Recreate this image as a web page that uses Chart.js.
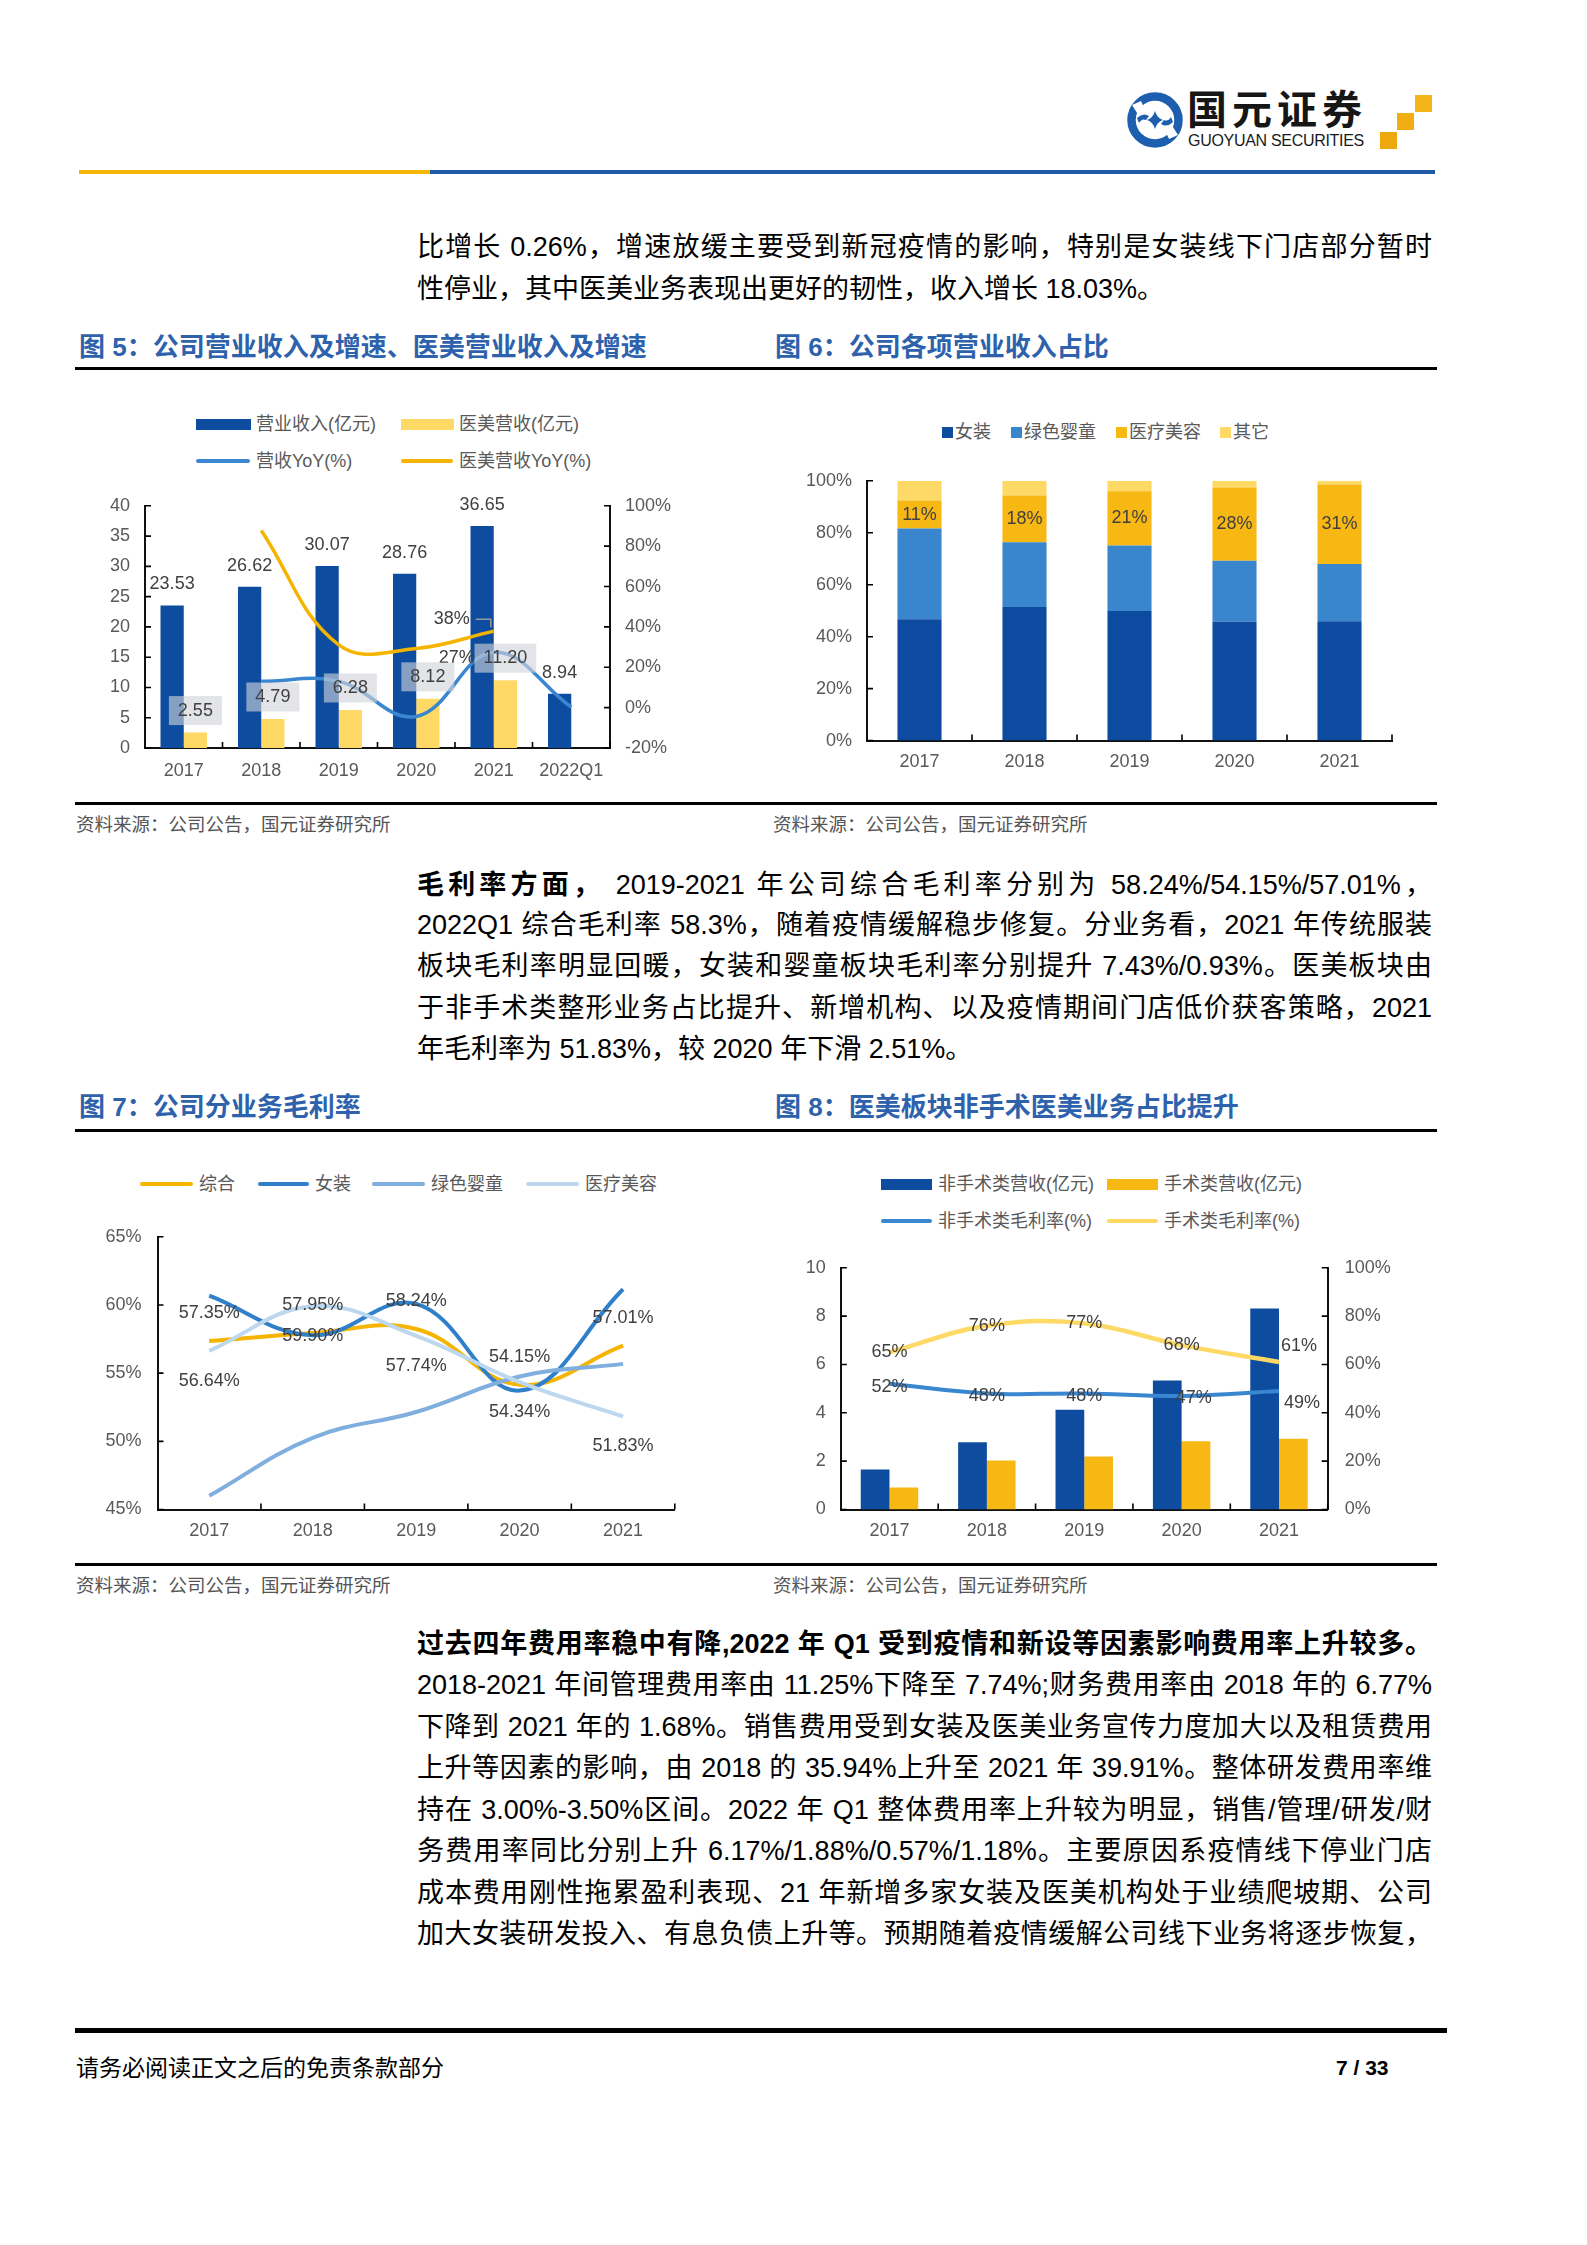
<!DOCTYPE html>
<html><head><meta charset="utf-8">
<script src="https://cdn.jsdelivr.net/npm/chart.js@4.4.1/dist/chart.umd.min.js"></script>
<style>
html,body{margin:0;padding:0;background:#fff;}
body{width:1587px;height:2245px;position:relative;overflow:hidden;font-family:"Liberation Sans","Noto Sans CJK SC",sans-serif;}
.abs{position:absolute;}
.line{position:absolute;left:417px;width:1015px;height:41.5px;line-height:41.5px;font-size:27px;color:#000;text-align:justify;text-align-last:justify;overflow:hidden;}
.line.last{text-align-last:left;}
.ftitle{position:absolute;font-size:26px;font-weight:bold;color:#2E62AC;line-height:30px;white-space:nowrap;}
.rule{position:absolute;background:#000;left:75px;width:1362px;height:3px;}
.src{position:absolute;font-size:18.5px;color:#555;white-space:nowrap;line-height:22px;}
.lg{position:absolute;font-size:18px;color:#595959;white-space:nowrap;line-height:22px;height:22px;display:flex;align-items:center;}
.mk{display:inline-block;margin-right:5px;}
.ln{display:inline-block;height:4px;border-radius:2px;margin-right:6px;}
canvas{position:absolute;}
</style>
</head>
<body>
<!-- header -->
<svg class="abs" style="left:1127px;top:92px" width="56" height="56" viewBox="0 0 56 56">
  <circle cx="28" cy="28" r="23.5" stroke="#1D5FAE" stroke-width="8.5" fill="none"/>
  <polygon points="5,13 14,9 20,22 12,24" fill="#fff"/>
  <polygon points="51,43 42,47 36,34 44,32" fill="#fff"/>
  <path d="M10 26 Q16 20 22 24 L19 28 Q15 26 12 31 Z" fill="#1D5FAE"/>
  <path d="M46 30 Q40 36 34 32 L37 28 Q41 30 44 25 Z" fill="#1D5FAE"/>
  <path d="M28 19 Q30 26 36 28 Q30 30 28 37 Q26 30 20 28 Q26 26 28 19 Z" fill="#1D5FAE"/>
</svg>
<div class="abs" style="left:1187px;top:84px;font-size:40px;font-weight:bold;color:#161616;line-height:46px;font-family:'Noto Sans CJK SC';letter-spacing:5px;white-space:nowrap;">国元证券</div>
<div class="abs" style="left:1188px;top:132px;font-size:16px;color:#1a1a1a;line-height:18px;white-space:nowrap;letter-spacing:-0.3px;">GUOYUAN SECURITIES</div>
<div class="abs" style="left:1415px;top:95px;width:17px;height:17px;background:#F3B51A;"></div>
<div class="abs" style="left:1397px;top:113px;width:17px;height:17px;background:#F0AE12;"></div>
<div class="abs" style="left:1380px;top:132px;width:17px;height:17px;background:#EDA80E;"></div>
<div class="abs" style="left:79px;top:170px;width:351px;height:4px;background:#F2B705;"></div>
<div class="abs" style="left:430px;top:170px;width:1005px;height:4px;background:#1F5AA6;"></div>

<!-- paragraph 1 -->
<div class="line" style="top:227px">比增长 0.26%，增速放缓主要受到新冠疫情的影响，特别是女装线下门店部分暂时</div>
<div class="line last" style="top:268.5px">性停业，其中医美业务表现出更好的韧性，收入增长 18.03%。</div>

<div class="ftitle" style="left:79px;top:332px">图 5：公司营业收入及增速、医美营业收入及增速</div>
<div class="ftitle" style="left:775px;top:332px">图 6：公司各项营业收入占比</div>
<div class="rule" style="top:366.5px"></div>

<!-- legends chart 5 -->
<div class="lg" style="left:196px;top:413px"><span class="mk" style="width:55px;height:11px;background:#0D4C9F"></span>营业收入(亿元)</div>
<div class="lg" style="left:401px;top:413px"><span class="mk" style="width:53px;height:11px;background:#FFD966"></span>医美营收(亿元)</div>
<div class="lg" style="left:196px;top:450px"><span class="ln" style="width:54px;background:#3A86D0"></span>营收YoY(%)</div>
<div class="lg" style="left:401px;top:450px"><span class="ln" style="width:52px;background:#F5B400"></span>医美营收YoY(%)</div>
<!-- legend chart 6 -->
<div class="lg" style="left:942px;top:421px"><span class="mk" style="width:11px;height:11px;background:#0D4C9F;margin-right:2px"></span>女装</div>
<div class="lg" style="left:1011px;top:421px"><span class="mk" style="width:11px;height:11px;background:#3A86CC;margin-right:2px"></span>绿色婴童</div>
<div class="lg" style="left:1116px;top:421px"><span class="mk" style="width:11px;height:11px;background:#F8B813;margin-right:2px"></span>医疗美容</div>
<div class="lg" style="left:1220px;top:421px"><span class="mk" style="width:11px;height:11px;background:#FFD966;margin-right:2px"></span>其它</div>

<canvas id="c5" width="640" height="320" style="left:79px;top:480px"></canvas>
<canvas id="c6" width="660" height="340" style="left:773px;top:455px"></canvas>

<div class="rule" style="top:802px"></div>
<div class="src" style="left:76px;top:814px">资料来源：公司公告，国元证券研究所</div>
<div class="src" style="left:773px;top:814px">资料来源：公司公告，国元证券研究所</div>

<!-- paragraph 2 -->
<div class="line" style="top:864.5px"><b>毛利率方面，</b> 2019-2021 年公司综合毛利率分别为 58.24%/54.15%/57.01%，</div>
<div class="line" style="top:904.5px">2022Q1 综合毛利率 58.3%，随着疫情缓解稳步修复。分业务看，2021 年传统服装</div>
<div class="line" style="top:946px">板块毛利率明显回暖，女装和婴童板块毛利率分别提升 7.43%/0.93%。医美板块由</div>
<div class="line" style="top:987.5px">于非手术类整形业务占比提升、新增机构、以及疫情期间门店低价获客策略，2021</div>
<div class="line last" style="top:1029px">年毛利率为 51.83%，较 2020 年下滑 2.51%。</div>

<div class="ftitle" style="left:79px;top:1092px">图 7：公司分业务毛利率</div>
<div class="ftitle" style="left:775px;top:1092px">图 8：医美板块非手术医美业务占比提升</div>
<div class="rule" style="top:1128.5px"></div>

<!-- legend chart 7 -->
<div class="lg" style="left:140px;top:1173px"><span class="ln" style="width:53px;background:#F5B400"></span>综合</div>
<div class="lg" style="left:258px;top:1173px"><span class="ln" style="width:51px;background:#2F7FCB"></span>女装</div>
<div class="lg" style="left:372px;top:1173px"><span class="ln" style="width:53px;background:#7FAEDF"></span>绿色婴童</div>
<div class="lg" style="left:526px;top:1173px"><span class="ln" style="width:53px;background:#BDD7EE"></span>医疗美容</div>
<!-- legend chart 8 -->
<div class="lg" style="left:881px;top:1173px"><span class="mk" style="width:51px;height:11px;background:#0D4C9F;margin-right:6px"></span>非手术类营收(亿元)</div>
<div class="lg" style="left:1107px;top:1173px"><span class="mk" style="width:51px;height:11px;background:#F8B813;margin-right:6px"></span>手术类营收(亿元)</div>
<div class="lg" style="left:881px;top:1210px"><span class="ln" style="width:51px;background:#3A86D0"></span>非手术类毛利率(%)</div>
<div class="lg" style="left:1107px;top:1210px"><span class="ln" style="width:51px;background:#FFD966"></span>手术类毛利率(%)</div>

<canvas id="c7" width="640" height="350" style="left:79px;top:1210px"></canvas>
<canvas id="c8" width="660" height="320" style="left:773px;top:1240px"></canvas>

<div class="rule" style="top:1562.5px"></div>
<div class="src" style="left:76px;top:1575px">资料来源：公司公告，国元证券研究所</div>
<div class="src" style="left:773px;top:1575px">资料来源：公司公告，国元证券研究所</div>

<!-- paragraph 3 -->
<div class="line" style="top:1623.5px"><b>过去四年费用率稳中有降,2022 年 Q1 受到疫情和新设等因素影响费用率上升较多。</b></div>
<div class="line" style="top:1665px">2018-2021 年间管理费用率由 11.25%下降至 7.74%;财务费用率由 2018 年的 6.77%</div>
<div class="line" style="top:1706.5px">下降到 2021 年的 1.68%。销售费用受到女装及医美业务宣传力度加大以及租赁费用</div>
<div class="line" style="top:1748px">上升等因素的影响，由 2018 的 35.94%上升至 2021 年 39.91%。整体研发费用率维</div>
<div class="line" style="top:1789.5px">持在 3.00%-3.50%区间。2022 年 Q1 整体费用率上升较为明显，销售/管理/研发/财</div>
<div class="line" style="top:1831px">务费用率同比分别上升 6.17%/1.88%/0.57%/1.18%。主要原因系疫情线下停业门店</div>
<div class="line" style="top:1872.5px">成本费用刚性拖累盈利表现、21 年新增多家女装及医美机构处于业绩爬坡期、公司</div>
<div class="line" style="top:1914px">加大女装研发投入、有息负债上升等。预期随着疫情缓解公司线下业务将逐步恢复，</div>

<!-- footer -->
<div class="abs" style="left:75px;top:2028px;width:1372px;height:4.5px;background:#000;"></div>
<div class="abs" style="left:76px;top:2054px;font-size:23px;line-height:28px;color:#000;white-space:nowrap;">请务必阅读正文之后的免责条款部分</div>
<div class="abs" style="left:1336px;top:2055px;font-size:21px;line-height:26px;font-weight:bold;color:#000;white-space:nowrap;">7 / 33</div>

<script>
// ---------- data ----------
const years5 = ['2017','2018','2019','2020','2021','2022Q1'];
const revenue = [23.53, 26.62, 30.07, 28.76, 36.65, 8.94];
const medRevenue = [2.55, 4.79, 6.28, 8.12, 11.20, null];
const revYoY = [null, 13.1, 13.0, -4.4, 27.4, 0.26];
const medYoY = [null, 87.8, 31.1, 29.3, 37.9, null];

const years = ['2017','2018','2019','2020','2021'];
const shareWomen = [46.7, 51.4, 49.9, 45.7, 45.9];
const shareKids = [34.9, 24.9, 25.2, 23.5, 22.1];
const shareMed = [10.8, 18.0, 20.9, 28.2, 30.6];
const shareOther = [7.6, 5.7, 4.0, 2.6, 1.4];

const gmTotal = [57.35, 57.95, 58.24, 54.15, 57.01];
const gmWomen = [60.68, 57.78, 60.08, 53.72, 61.15];
const gmKids = [46.0, 50.26, 52.15, 54.75, 55.68];
const gmMed = [56.64, 59.90, 57.74, 54.34, 51.83];

const nonSurgRev = [1.66, 2.78, 4.13, 5.34, 8.32];
const surgRev = [0.91, 2.03, 2.19, 2.82, 2.93];
const nonSurgGM = [52, 48, 48, 47, 49];
const surgGM = [65, 76, 77, 68, 61];

// ---------- plugins ----------
const FONT = '"Liberation Sans", "Noto Sans CJK SC", sans-serif';
Chart.defaults.font.family = FONT;
Chart.defaults.color = '#595959';

const inwardTicks = {
  id: 'inwardTicks',
  beforeDatasetsDraw(chart) {
    const ctx = chart.ctx, len = 6;
    ctx.save(); ctx.strokeStyle = '#000'; ctx.lineWidth = 1.6;
    for (const s of Object.values(chart.scales)) {
      ctx.beginPath();
      if (s.axis === 'y') {
        const left = s.position === 'left';
        const x = left ? s.right : s.left;
        s.ticks.forEach((t, i) => { const y = s.getPixelForTick(i); ctx.moveTo(x, y); ctx.lineTo(x + (left ? len : -len), y); });
      } else {
        const n = s.ticks.length;
        for (let i = 1; i <= n; i++) { const x = s.left + (s.right - s.left) * i / n; ctx.moveTo(x, s.top); ctx.lineTo(x, s.top - len); }
      }
      ctx.stroke();
    }
    ctx.restore();
  }
};

const valueLabels = {
  id: 'valueLabels',
  afterDatasetsDraw(chart) {
    const ctx = chart.ctx;
    chart.data.datasets.forEach((ds, di) => {
      const L = ds.vlabels; if (!L) return;
      const meta = chart.getDatasetMeta(di);
      meta.data.forEach((el, i) => {
        const v = ds.data[i];
        if (v === null || v === undefined) return;
        if (L.show && !L.show(i)) return;
        const txt = L.format(v, i);
        let x = el.x, y = (L.pos === 'center') ? (el.y + el.base) / 2 : el.y;
        const off = L.offset ? L.offset(i) : [0, 0];
        const px = el.x, py = el.y;
        x += off[0]; y += off[1];
        ctx.save();
        ctx.font = (L.font || '18px') + ' ' + FONT;
        ctx.textAlign = 'center'; ctx.textBaseline = 'middle';
        const w = ctx.measureText(txt).width;
        if (L.bg) { ctx.fillStyle = L.bg; ctx.fillRect(x - w / 2 - L.padX, y - L.h / 2, w + 2 * L.padX, L.h); }
        if (L.leader && L.leader(i)) {
          ctx.strokeStyle = '#9A9A9A'; ctx.lineWidth = 1.5;
          ctx.beginPath(); ctx.moveTo(x + w / 2 + 6, y); ctx.lineTo(px - 3, y); ctx.lineTo(px - 3, py - 4); ctx.stroke();
        }
        ctx.fillStyle = L.color || '#404040';
        ctx.fillText(txt, x, y);
        ctx.restore();
      });
    });
  }
};

function axisStyle(extra) {
  return Object.assign({
    grid: { display: false, drawTicks: false },
    border: { display: true, color: '#111', width: 2 },
  }, extra);
}
const tickFont = { size: 18, family: FONT };
const common = {
  responsive: false, animation: false,
  plugins: { legend: { display: false }, tooltip: { enabled: false } },
};

// ---------- chart 5 ----------
new Chart(document.getElementById('c5'), {
  type: 'bar',
  data: {
    labels: years5,
    datasets: [
      { type: 'line', label: '营收YoY(%)', data: revYoY, yAxisID: 'y2', borderColor: '#3A86D0', borderWidth: 3.5,
        tension: 0.4, pointRadius: 0, fill: false, order: 1,
        vlabels: { show: i => i === 4, format: v => Math.round(v) + '%', offset: () => [-37, 6] } },
      { type: 'line', label: '医美营收YoY(%)', data: medYoY, yAxisID: 'y2', borderColor: '#F5B400', borderWidth: 3.5,
        tension: 0.4, pointRadius: 0, fill: false, order: 0,
        vlabels: { show: i => i === 4, format: v => Math.round(v) + '%', offset: () => [-42, -12], leader: () => true } },
      { label: '营业收入(亿元)', data: revenue, backgroundColor: '#0D4C9F', order: 5, yAxisID: 'y',
        vlabels: { format: v => v.toFixed(2), offset: () => [0, -21] } },
      { label: '医美营收(亿元)', data: medRevenue, backgroundColor: '#FFD966', order: 5, yAxisID: 'y',
        vlabels: { format: v => v.toFixed(2), offset: () => [0, -22], bg: 'rgba(210,212,218,0.62)', padX: 9, h: 29 } },
    ]
  },
  options: Object.assign({}, common, {
    layout: { padding: { top: 25, left: 0, right: 0, bottom: 0 } },
    datasets: { bar: { categoryPercentage: 0.6, barPercentage: 1.0 } },
    scales: {
      x: axisStyle({ ticks: { font: tickFont, padding: 12, color: '#595959' }, afterFit(s) { s.height = 52; } }),
      y: axisStyle({ position: 'left', min: 0, max: 40, ticks: { stepSize: 5, font: tickFont, padding: 15, color: '#595959' }, afterFit(s) { s.width = 66; } }),
      y2: axisStyle({ position: 'right', min: -20, max: 100, ticks: { stepSize: 20, font: tickFont, padding: 15, color: '#595959', callback: v => v + '%' }, afterFit(s) { s.width = 109; } }),
    }
  }),
  plugins: [inwardTicks, valueLabels]
});

// ---------- chart 6 ----------
new Chart(document.getElementById('c6'), {
  type: 'bar',
  data: {
    labels: years,
    datasets: [
      { label: '女装', data: shareWomen, backgroundColor: '#0D4BA0' },
      { label: '绿色婴童', data: shareKids, backgroundColor: '#3A86CC' },
      { label: '医疗美容', data: shareMed, backgroundColor: '#F8B813',
        vlabels: { pos: 'center', format: v => Math.round(v) + '%', offset: () => [0, 0] } },
      { label: '其它', data: shareOther, backgroundColor: '#FDD966' },
    ]
  },
  options: Object.assign({}, common, {
    layout: { padding: { top: 25, left: 0, right: 41, bottom: 0 } },
    datasets: { bar: { categoryPercentage: 1.0, barPercentage: 0.42 } },
    scales: {
      x: axisStyle({ stacked: true, ticks: { font: tickFont, padding: 11, color: '#595959' }, afterFit(s) { s.height = 54.4; } }),
      y: axisStyle({ stacked: true, position: 'left', min: 0, max: 100, ticks: { stepSize: 20, font: tickFont, padding: 15, color: '#595959', callback: v => v + '%' }, afterFit(s) { s.width = 94; } }),
    }
  }),
  plugins: [inwardTicks, valueLabels]
});

// ---------- chart 7 ----------
const lineDs = (label, data, color, order, vl) => ({ label, data, borderColor: color, backgroundColor: color, borderWidth: 4,
  tension: 0.4, pointRadius: 0, fill: false, order, vlabels: vl });
new Chart(document.getElementById('c7'), {
  type: 'line',
  data: {
    labels: years,
    datasets: [
      lineDs('综合', gmTotal, '#F5B400', 3, { format: v => v.toFixed(2) + '%', offset: () => [0, -28] }),
      lineDs('女装', gmWomen, '#2F7FCB', 2),
      lineDs('绿色婴童', gmKids, '#7FAEDF', 1),
      lineDs('医疗美容', gmMed, '#BDD7EE', 0, { format: v => v.toFixed(2) + '%', offset: () => [0, 30] }),
    ]
  },
  options: Object.assign({}, common, {
    layout: { padding: { top: 24.5, left: 0, right: 44.2, bottom: 0 } },
    scales: {
      x: axisStyle({ offset: true, ticks: { font: tickFont, padding: 11, color: '#595959' }, afterFit(s) { s.height = 50.5; } }),
      y: axisStyle({ position: 'left', min: 45, max: 65, ticks: { stepSize: 5, font: tickFont, padding: 16, color: '#595959', callback: v => v + '%' }, afterFit(s) { s.width = 78.5; } }),
    }
  }),
  plugins: [inwardTicks, valueLabels]
});

// ---------- chart 8 ----------
new Chart(document.getElementById('c8'), {
  type: 'bar',
  data: {
    labels: years,
    datasets: [
      { type: 'line', label: '非手术类毛利率(%)', data: nonSurgGM, yAxisID: 'y2', borderColor: '#3A86D0', borderWidth: 4,
        tension: 0.4, pointRadius: 0, fill: false, order: 1,
        vlabels: { format: v => Math.round(v) + '%', offset: i => (i === 4 ? [23, 12] : (i === 3 ? [12, 2] : [0, 3])) } },
      { type: 'line', label: '手术类毛利率(%)', data: surgGM, yAxisID: 'y2', borderColor: '#FFD966', borderWidth: 4.5,
        tension: 0.4, pointRadius: 0, fill: false, order: 0,
        vlabels: { format: v => Math.round(v) + '%', offset: i => (i === 4 ? [20, -16] : [0, 0]) } },
      { label: '非手术类营收(亿元)', data: nonSurgRev, backgroundColor: '#0D4C9F', order: 5, yAxisID: 'y' },
      { label: '手术类营收(亿元)', data: surgRev, backgroundColor: '#F8B813', order: 5, yAxisID: 'y' },
    ]
  },
  options: Object.assign({}, common, {
    layout: { padding: { top: 26, left: 0, right: 0, bottom: 0 } },
    datasets: { bar: { categoryPercentage: 0.59, barPercentage: 1.0 } },
    scales: {
      x: axisStyle({ ticks: { font: tickFont, padding: 11, color: '#595959' }, afterFit(s) { s.height = 50.5; } }),
      y: axisStyle({ position: 'left', min: 0, max: 10, ticks: { stepSize: 2, font: tickFont, padding: 15, color: '#595959' }, afterFit(s) { s.width = 67.8; } }),
      y2: axisStyle({ position: 'right', min: 0, max: 100, ticks: { stepSize: 20, font: tickFont, padding: 17, color: '#595959', callback: v => v + '%' }, afterFit(s) { s.width = 105.3; } }),
    }
  }),
  plugins: [inwardTicks, valueLabels]
});
</script>
</body></html>
